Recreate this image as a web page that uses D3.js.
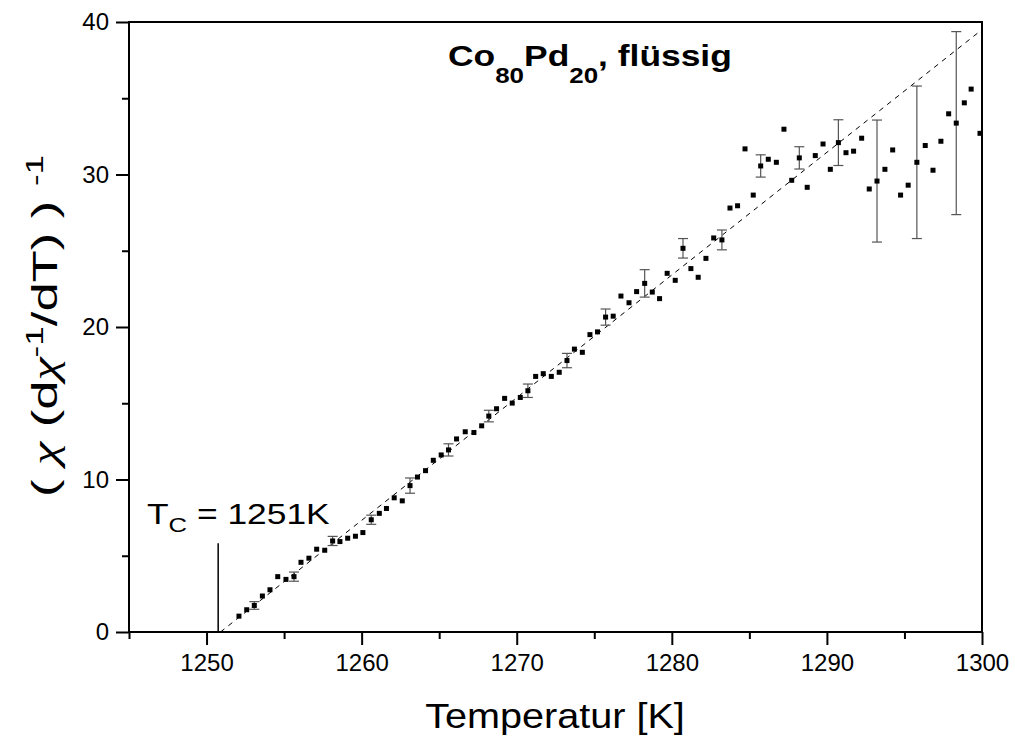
<!DOCTYPE html>
<html>
<head>
<meta charset="utf-8">
<script src="https://cdn.jsdelivr.net/npm/d3@7"></script>
<style>
  body { margin: 0; background: #fff; }
  text { font-family: "Liberation Sans", Arial, sans-serif; fill: #000; }
</style>
</head>
<body>
<svg id="chart"></svg>
<script>
const width = 1015;
const height = 738;

// measured points (T in K, value)
const temps = [1252.09, 1252.59, 1253.08, 1253.60, 1254.09, 1254.59, 1255.12, 1255.64, 1256.09, 1256.60,
  1257.10, 1257.62, 1258.13, 1258.60, 1259.10, 1259.60, 1260.08, 1260.62, 1261.14, 1261.60,
  1262.10, 1262.62, 1263.12, 1263.60, 1264.12, 1264.62, 1265.13, 1265.60, 1266.12, 1266.68,
  1267.24, 1267.74, 1268.20, 1268.70, 1269.22, 1269.71, 1270.23, 1270.72, 1271.22, 1271.71,
  1272.23, 1272.74, 1273.24, 1273.72, 1274.23, 1274.72, 1275.21, 1275.73, 1276.22, 1276.72,
  1277.24, 1277.73, 1278.25, 1278.74, 1279.21, 1279.70, 1280.22, 1280.72, 1281.23, 1281.70,
  1282.20, 1282.70, 1283.23, 1283.75, 1284.24, 1284.72, 1285.25, 1285.73, 1286.22, 1286.74,
  1287.23, 1287.73, 1288.22, 1288.73, 1289.25, 1289.75, 1290.22, 1290.74, 1291.23, 1291.72,
  1292.24, 1292.73, 1293.23, 1293.74, 1294.24, 1294.75, 1295.24, 1295.80, 1296.34, 1296.84,
  1297.35, 1297.85, 1298.34, 1298.86, 1299.30, 1299.87];
const values = [1.04, 1.46, 1.74, 2.36, 2.77, 3.63, 3.45, 3.63, 4.57, 4.84,
  5.43, 5.36, 5.97, 5.93, 6.15, 6.28, 6.52, 7.36, 7.78, 8.10,
  8.80, 8.60, 9.60, 10.16, 10.58, 11.26, 11.61, 11.94, 12.66, 13.13,
  13.08, 13.52, 14.16, 14.64, 15.32, 15.01, 15.38, 15.82, 16.76, 16.94,
  16.76, 17.03, 17.80, 18.55, 18.34, 19.50, 19.68, 20.65, 20.71, 22.03,
  21.59, 22.32, 22.86, 22.29, 21.86, 23.52, 23.06, 25.16, 23.83, 23.26,
  24.50, 25.84, 25.71, 27.80, 27.95, 31.68, 28.65, 30.56, 31.00, 30.80,
  32.97, 29.62, 31.09, 29.16, 31.24, 32.00, 30.34, 32.09, 31.43, 31.53,
  32.38, 29.05, 29.57, 30.34, 31.61, 28.65, 29.30, 30.80, 31.90, 30.28,
  32.18, 33.98, 33.37, 34.70, 35.60, 32.70];

// error bars (centre T, centre value, half width)
const errTemps = [1253.08, 1255.64, 1258.13, 1260.62, 1263.12, 1265.60, 1268.20, 1270.72, 1273.24, 1275.73,
  1278.25, 1280.72, 1283.23, 1285.73, 1288.22, 1290.74, 1293.23, 1295.80, 1298.34];
const errValues = [1.74, 3.63, 5.97, 7.36, 9.60, 11.94, 14.16, 15.82, 17.80, 20.65,
  22.86, 25.16, 25.71, 30.56, 31.09, 32.09, 29.57, 30.80, 33.37];
const errHalf = [0.25, 0.3, 0.3, 0.3, 0.5, 0.4, 0.38, 0.44, 0.47, 0.53,
  0.9, 0.64, 0.65, 0.73, 0.73, 1.5, 4.0, 5.0, 6.0];

// linear fit line and Curie temperature marker
const fitTemps = [1250.9, 1300];
const fitValues = [0, 39.5];
const tcTemp = 1250.75;
const tcTop = 5.82;

const xTicks = [1250, 1260, 1270, 1280, 1290, 1300];
const xMinor = [1245, 1255, 1265, 1275, 1285, 1295];
const yTicks = [0, 10, 20, 30, 40];
const yMinor = [5, 15, 25, 35];

const margin = { left: 129, right: 33, top: 22, bottom: 106 };

const svg = d3.select("#chart")
  .attr("width", width)
  .attr("height", height);

svg.append("rect").attr("width", width).attr("height", height).attr("fill", "#fff");

const x = d3.scaleLinear().domain([1245, 1300]).range([margin.left, width - margin.right]);
const y = d3.scaleLinear().domain([0, 40]).range([height - margin.bottom, margin.top]);

// minor ticks
svg.append("g")
  .attr("transform", "translate(0," + y(0) + ")")
  .call(d3.axisBottom(x).tickValues(xMinor).tickSize(7).tickSizeOuter(0).tickFormat(""))
  .call(g => g.select(".domain").remove());
svg.append("g")
  .attr("transform", "translate(" + x(1245) + ",0)")
  .call(d3.axisLeft(y).tickValues(yMinor).tickSize(7).tickSizeOuter(0).tickFormat(""))
  .call(g => g.select(".domain").remove());

// major ticks
svg.append("g")
  .attr("transform", "translate(0," + y(0) + ")")
  .call(d3.axisBottom(x).tickValues(xTicks).tickSize(13).tickPadding(9).tickSizeOuter(0).tickFormat(d3.format("d")));
svg.append("g")
  .attr("transform", "translate(" + x(1245) + ",0)")
  .call(d3.axisLeft(y).tickValues(yTicks).tickSize(13).tickPadding(7).tickSizeOuter(0));

svg.selectAll(".tick line").attr("stroke", "#000").attr("stroke-width", 2);
svg.selectAll(".domain").remove();
svg.selectAll(".tick text")
  .style("font-family", "'Liberation Sans', Arial, sans-serif")
  .style("font-size", "24px")
  .attr("fill", "#000");

// frame
svg.append("rect")
  .attr("x", x(1245)).attr("y", y(40))
  .attr("width", x(1300) - x(1245)).attr("height", y(0) - y(40))
  .attr("fill", "none").attr("stroke", "#000").attr("stroke-width", 2);

// fit line
svg.append("line")
  .attr("x1", x(fitTemps[0])).attr("y1", y(fitValues[0]))
  .attr("x2", x(fitTemps[1])).attr("y2", y(fitValues[1]))
  .attr("stroke", "#000").attr("stroke-width", 1)
  .attr("stroke-dasharray", "5,5");

// Tc marker
svg.append("line")
  .attr("x1", x(tcTemp)).attr("x2", x(tcTemp))
  .attr("y1", y(0)).attr("y2", y(tcTop))
  .attr("stroke", "#000").attr("stroke-width", 1.5);

// error bars
const errG = svg.append("g").attr("stroke", "#555").attr("stroke-width", 1.2);
errTemps.forEach((t, i) => {
  const lo = y(errValues[i] - errHalf[i]);
  const hi = y(errValues[i] + errHalf[i]);
  errG.append("line").attr("x1", x(t)).attr("x2", x(t)).attr("y1", lo).attr("y2", hi);
  errG.append("line").attr("x1", x(t) - 5).attr("x2", x(t) + 5).attr("y1", lo).attr("y2", lo);
  errG.append("line").attr("x1", x(t) - 5).attr("x2", x(t) + 5).attr("y1", hi).attr("y2", hi);
});

// points
svg.append("g").selectAll("rect")
  .data(temps.map((t, i) => ({ t: t, v: values[i] })))
  .enter().append("rect")
  .attr("x", d => x(d.t) - 2.5)
  .attr("y", d => y(d.v) - 2.5)
  .attr("width", 5).attr("height", 5)
  .attr("fill", "#000");

// title
const title = svg.append("text")
  .attr("transform", "translate(448,66) scale(1.18,1)")
  .style("font-size", "30px").style("font-weight", "bold");
title.append("tspan").text("Co");
title.append("tspan").attr("dy", 17).style("font-size", "22px").text("80");
title.append("tspan").attr("dy", -17).text("Pd");
title.append("tspan").attr("dy", 17).style("font-size", "22px").text("20");
title.append("tspan").attr("dy", -17).text(", flüssig");

// Tc label
const tcLabel = svg.append("text")
  .attr("transform", "translate(147,524) scale(1.22,1)")
  .style("font-size", "29px");
tcLabel.append("tspan").text("T");
tcLabel.append("tspan").attr("dy", 8).style("font-size", "21px").text("C");
tcLabel.append("tspan").attr("dy", -8).text(" = 1251K");

// x axis title
svg.append("text")
  .attr("transform", "translate(555,728) scale(1.1,1)")
  .attr("text-anchor", "middle")
  .style("font-size", "36px")
  .text("Temperatur [K]");

// y axis title
const greek = "'Liberation Serif', serif";
const yTitle = svg.append("text")
  .attr("transform", "translate(57,326) rotate(-90) scale(1.46,1)")
  .attr("text-anchor", "middle")
  .style("font-size", "36px");
yTitle.append("tspan").text("( ");
yTitle.append("tspan").style("font-family", greek).style("font-style", "italic").text("χ");
yTitle.append("tspan").text(" (d");
yTitle.append("tspan").style("font-family", greek).style("font-style", "italic").text("χ");
yTitle.append("tspan").attr("dy", -14).style("font-size", "24px").text("-1");
yTitle.append("tspan").attr("dy", 14).text("/dT) ) ");
yTitle.append("tspan").attr("dy", -14).style("font-size", "24px").text("-1");
</script>
</body>
</html>
